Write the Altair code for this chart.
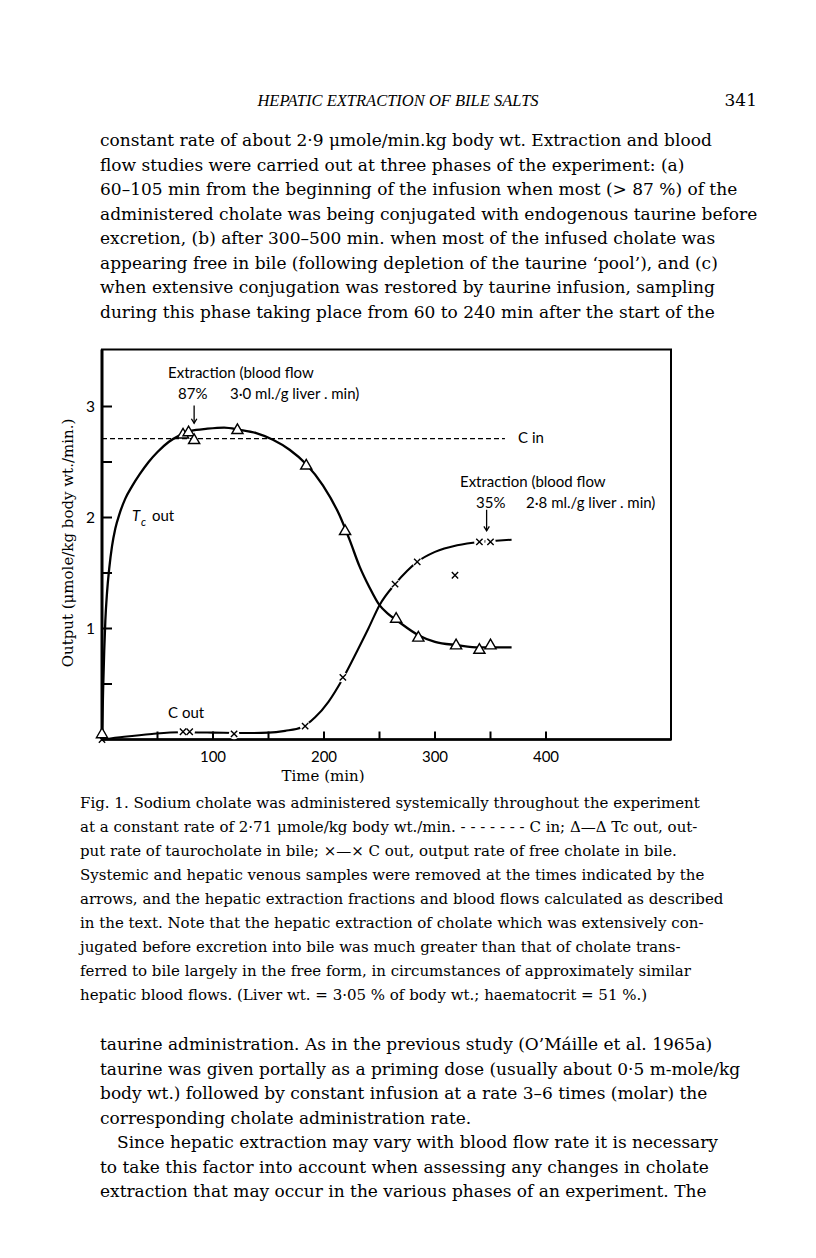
import altair as alt
import pandas as pd

# ---------------- data ----------------
# T_c out (taurocholate output) smooth curve
tc_curve_t = [0, 1, 2, 3, 4.5, 6.5, 9, 12, 16, 21, 27, 34, 42, 50, 60, 70, 80, 95, 110,
              124, 139, 154, 169, 184, 199, 214, 223, 232, 241, 250, 258, 266, 285,
              300, 320, 340, 369]
tc_curve_v = [0, 0.45, 0.8, 1.07, 1.32, 1.54, 1.74, 1.9, 2.04, 2.17, 2.28, 2.39, 2.5,
              2.59, 2.68, 2.74, 2.78, 2.80, 2.81, 2.79, 2.76, 2.70, 2.61, 2.48, 2.29,
              2.02, 1.80, 1.56, 1.37, 1.21, 1.13, 1.07, 0.94, 0.88, 0.85, 0.83, 0.83]
# C out (free cholate output) smooth curve
cout_curve_t = [0, 20, 45, 70, 100, 125, 150, 165, 180, 192, 204, 217, 230, 240, 250,
                264, 275, 284, 300, 320, 340, 355, 369]
cout_curve_v = [0, 0.025, 0.05, 0.065, 0.062, 0.058, 0.062, 0.078, 0.11, 0.2, 0.34, 0.55,
                0.8, 1.0, 1.21, 1.40, 1.52, 1.60, 1.69, 1.75, 1.78, 1.79, 1.80]
# observed points
tc_pts_t = [0, 73, 78, 83, 122, 184, 219, 265, 285, 319, 340, 350]
tc_pts_v = [0.06, 2.76, 2.78, 2.71, 2.80, 2.48, 1.89, 1.10, 0.93, 0.86, 0.82, 0.86]
cout_pts_t = [0, 73, 79, 119, 183, 217, 264, 284, 318, 340, 350]
cout_pts_v = [0, 0.07, 0.07, 0.05, 0.12, 0.56, 1.40, 1.60, 1.48, 1.78, 1.78]
# C in (administration rate)
c_in_rate = 2.71
c_in_end = 363
# axes
x_tick_values = [50, 100, 150, 200, 250, 300, 350, 400]
x_tick_labels = [100, 200, 300, 400]
y_tick_values = [0.5, 1, 1.5, 2, 2.5, 3]
y_tick_labels = [1, 2, 3]
# sampling arrows (time, top value, tip value)
arrow_t = [83, 346.5]
arrow_top = [3.01, 2.07]
arrow_tip = [2.85, 1.88]

# ---------------- page text ----------------
header = "HEPATIC EXTRACTION OF BILE SALTS"
page_no = "341"
body_lines = [
    "constant rate of about 2·9 μmole/min.kg body wt. Extraction and blood",
    "flow studies were carried out at three phases of the experiment: (a)",
    "60–105 min from the beginning of the infusion when most (> 87 %) of the",
    "administered cholate was being conjugated with endogenous taurine before",
    "excretion, (b) after 300–500 min. when most of the infused cholate was",
    "appearing free in bile (following depletion of the taurine ‘pool’), and (c)",
    "when extensive conjugation was restored by taurine infusion, sampling",
    "during this phase taking place from 60 to 240 min after the start of the",
]
caption_lines = [
    "Fig. 1. Sodium cholate was administered systemically throughout the experiment",
    "at a constant rate of 2·71 μmole/kg body wt./min. - - - - - - - C in; Δ—Δ Tc out, out-",
    "put rate of taurocholate in bile;  ×—× C out, output rate of free cholate in bile.",
    "Systemic and hepatic venous samples were removed at the times indicated by the",
    "arrows, and the hepatic extraction fractions and blood flows calculated as described",
    "in the text. Note that the hepatic extraction of cholate which was extensively con-",
    "jugated before excretion into bile was much greater than that of cholate trans-",
    "ferred to bile largely in the free form, in circumstances of approximately similar",
    "hepatic blood flows. (Liver wt. = 3·05 % of body wt.; haematocrit = 51 %.)",
]
post_lines_a = [
    "taurine administration. As in the previous study (O’Máille et al. 1965a)",
    "taurine was given portally as a priming dose (usually about 0·5 m-mole/kg",
    "body wt.) followed by constant infusion at a rate 3–6 times (molar) the",
    "corresponding cholate administration rate.",
]
post_line_indent = "Since hepatic extraction may vary with blood flow rate it is necessary"
post_lines_b = [
    "to take this factor into account when assessing any changes in cholate",
    "extraction that may occur in the various phases of an experiment. The",
]

# ---------------- layout ----------------
SERIF = "DejaVu Serif"
SANS = "Lato"
OX, OY = 102, 349.5          # page position of plot origin (top-left)
W, H = 569, 390              # plot area
PX_PER_MIN, PX_PER_UNIT = 1.11, 111.0
X_MAX = W / PX_PER_MIN
Y_MAX = H / PX_PER_UNIT
XS = alt.Scale(domain=[0, X_MAX], nice=False, zero=False)
YS = alt.Scale(domain=[0, Y_MAX], nice=False, zero=False)


def X(field="t"):
    return alt.X(f"{field}:Q", scale=XS, axis=None)


def Y(field="v"):
    return alt.Y(f"{field}:Q", scale=YS, axis=None)


tc_curve = pd.DataFrame({"t": tc_curve_t, "v": tc_curve_v})
cout_curve = pd.DataFrame({"t": cout_curve_t, "v": cout_curve_v})
tc_pts = pd.DataFrame({"t": tc_pts_t, "v": tc_pts_v})
cout_pts = pd.DataFrame({"t": cout_pts_t, "v": cout_pts_v})

layers = []

# axis lines (left and bottom, thicker than the frame)
one = pd.DataFrame({"a": [0]})
layers.append(alt.Chart(one).mark_rule(color="black", strokeWidth=3).encode(
    x=alt.value(0), y=alt.value(0), y2=alt.value(H)))
layers.append(alt.Chart(one).mark_rule(color="black", strokeWidth=2.5).encode(
    x=alt.value(0), x2=alt.value(W), y=alt.value(H)))

# inward ticks
xt = alt.Chart(pd.DataFrame({"t": x_tick_values})).mark_rule(
    color="black", strokeWidth=2).encode(x=X(), y=alt.value(H), y2=alt.value(H - 8))
yt = alt.Chart(pd.DataFrame({"v": y_tick_values})).mark_rule(
    color="black", strokeWidth=2).encode(y=Y(), x=alt.value(0), x2=alt.value(10))
layers += [xt, yt]

# tick labels
xl = alt.Chart(pd.DataFrame({"t": x_tick_labels})).mark_text(
    font=SANS, fontSize=15, color="black", align="center", baseline="middle").encode(
    x=X(), y=alt.value(H + 17), text=alt.Text("t:Q", format="d"))
yl = alt.Chart(pd.DataFrame({"v": y_tick_labels})).mark_text(
    font=SANS, fontSize=15.5, color="black", align="right", baseline="middle").encode(
    y=Y(), x=alt.value(-7), text=alt.Text("v:Q", format="d"))
layers += [xl, yl]

# C in dashed line
cin = alt.Chart(pd.DataFrame({"t": [0], "t2": [c_in_end], "v": [c_in_rate]})).mark_rule(
    color="black", strokeWidth=1.2, strokeDash=[5, 3]).encode(x=X(), x2="t2:Q", y=Y())
layers.append(cin)

# curves
tc_line = alt.Chart(tc_curve).mark_line(color="black", strokeWidth=2.3,
                                         interpolate="monotone").encode(x=X(), y=Y())
cout_line = alt.Chart(cout_curve).mark_line(color="black", strokeWidth=2.1,
                                             interpolate="monotone").encode(x=X(), y=Y())
layers += [tc_line, cout_line]

# white halos to break the C out line around the crosses
halo = alt.Chart(cout_pts[cout_pts.t > 0]).mark_point(
    shape="circle", filled=True, color="white", opacity=1, size=110).encode(x=X(), y=Y())
layers.append(halo)

crosses = alt.Chart(cout_pts).mark_point(
    shape="M-1,-1L1,1M-1,1L1,-1", filled=False, color="black", strokeWidth=1.4,
    size=40, opacity=1).encode(x=X(), y=Y())
tris = alt.Chart(tc_pts).mark_point(
    shape="triangle-up", filled=True, fill="white", stroke="black", strokeWidth=1.4,
    size=125, opacity=1).encode(x=X(), y=Y())
layers += [crosses, tris]

# arrows
arr = pd.DataFrame({"t": arrow_t, "v": arrow_top, "v2": arrow_tip})
arrow_shaft = alt.Chart(arr).mark_rule(color="black", strokeWidth=1.3).encode(
    x=X(), y=Y(), y2="v2:Q")
arrow_head = alt.Chart(arr).mark_point(
    shape="M-1,-1.6L0,0L1,-1.6", filled=False, color="black", strokeWidth=1.3,
    size=30, opacity=1).encode(x=X(), y=Y("v2"))
layers += [arrow_shaft, arrow_head]


def note(t, v, s, size=15, align="left", style="normal", font=SANS):
    df = pd.DataFrame({"t": [t], "v": [v], "s": [s]})
    return alt.Chart(df).mark_text(
        align=align, baseline="middle", font=font, fontSize=size, fontStyle=style,
        color="black").encode(x=X(), y=Y(), text="s:N")


layers += [
    note(59.5, 3.30, "Extraction (blood flow"),
    note(68.5, 3.11, "87%"),
    note(115.3, 3.11, "3·0 ml./g liver . min)"),
    note(322.5, 2.32, "Extraction (blood flow"),
    note(337, 2.13, "35%"),
    note(382, 2.13, "2·8 ml./g liver . min)"),
    note(27, 2.01, "T", style="italic"),
    note(35.1, 1.95, "c", size=11, style="italic"),
    note(45, 2.01, "out"),
    note(59.5, 0.24, "C out"),
    note(374.8, 2.72, "C in"),
]


def page_text(lines, x, y_center, size, lh, font=SERIF, align="left", style="normal"):
    df = pd.DataFrame({"s": ["\n".join(lines)]})
    return alt.Chart(df).mark_text(
        align=align, baseline="alphabetic", font=font, fontSize=size, fontStyle=style,
        lineBreak="\n", lineHeight=lh, color="black").encode(
        x=alt.value(x - OX), y=alt.value(y_center + 0.3 * size - OY), text="s:N")


# axis titles
layers.append(page_text(["Time (min)"], 323, 776, 15, 18, align="center"))
ytitle = alt.Chart(pd.DataFrame({"s": ["Output (μmole/kg body wt./min.)"]})).mark_text(
    angle=270, align="center", baseline="middle", font=SERIF, fontSize=15,
    color="black").encode(x=alt.value(68 - OX), y=alt.value(543 - OY), text="s:N")
layers.append(ytitle)

# page body
layers += [
    page_text([header], 398, 101, 16.5, 20, font="Liberation Serif", align="center",
              style="italic"),
    page_text([page_no], 757, 101, 17, 20, align="right"),
    page_text(body_lines, 100, 141, 17, 24.5),
    page_text(caption_lines, 80, 803, 15, 24),
    page_text(post_lines_a, 100, 1045, 17, 24.5),
    page_text([post_line_indent], 117, 1143, 17, 24.5),
    page_text(post_lines_b, 100, 1167.5, 17, 24.5),
]

chart = alt.layer(*layers).properties(
    width=W, height=H,
    autosize=alt.AutoSizeParams(type="none"),
    padding={"left": OX - 8, "top": OY - 8, "right": 800 - (OX - 8) - W,
             "bottom": 1240 - (OY - 8) - H},
    background="white",
).configure_view(stroke="black", strokeWidth=2)

chart.save("out.html", embed_options={"renderer": "svg", "actions": False})
